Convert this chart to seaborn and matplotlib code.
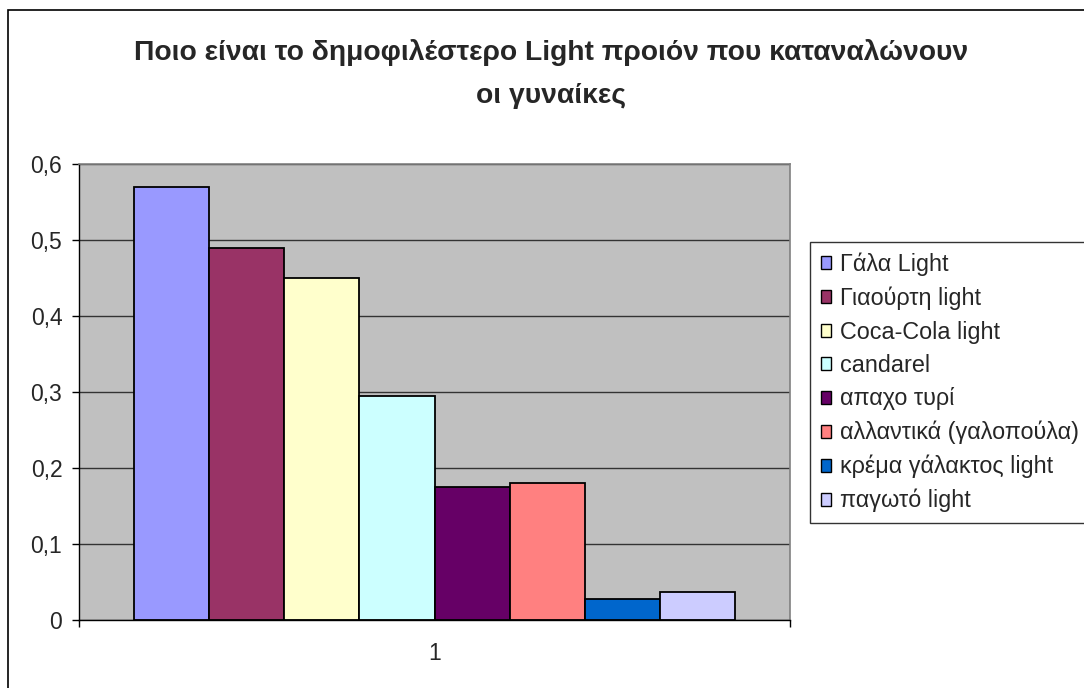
import matplotlib
matplotlib.use("Agg")
import matplotlib.pyplot as plt
from matplotlib.patches import Patch, Rectangle
import seaborn as sns
import pandas as pd

# Share of women naming each light product
products = [
    "Γάλα Light",
    "Γιαούρτη light",
    "Coca-Cola light",
    "candarel",
    "απαχο τυρί",
    "αλλαντικά (γαλοπούλα)",
    "κρέμα γάλακτος light",
    "παγωτό light",
]
shares = [0.57, 0.49, 0.45, 0.295, 0.175, 0.18, 0.028, 0.037]
groups = ["1"] * len(products)
colors = ["#9999FF", "#993366", "#FFFFCC", "#CCFFFF",
          "#660066", "#FF8080", "#0066CC", "#CCCCFF"]
y_ticks = [0.0, 0.1, 0.2, 0.3, 0.4, 0.5, 0.6]
y_tick_labels = ["0", "0,1", "0,2", "0,3", "0,4", "0,5", "0,6"]
title = "Ποιο είναι το δημοφιλέστερο Light προιόν που καταναλώνουν\nοι γυναίκες"

df = pd.DataFrame({"group": groups, "product": products, "share": shares})

sns.set_style("white")
plt.rcParams["font.family"] = ["Liberation Sans", "DejaVu Sans"]

W, H = 1084, 688
fig = plt.figure(figsize=(W / 100, H / 100), dpi=100)
fig.patch.set_facecolor("white")

# plot area in pixel coordinates
left, right, top, bottom = 79, 790, 164, 620
ax = fig.add_axes([left / W, 1 - bottom / H, (right - left) / W, (bottom - top) / H])
ax.set_facecolor("#C0C0C0")

sns.barplot(data=df, x="group", y="share", hue="product", hue_order=products,
            palette=colors, saturation=1, width=0.846, errorbar=None,
            edgecolor="black", linewidth=1.3, legend=False, ax=ax)

ax.set_xlim(-0.5, 0.5)
ax.set_ylim(0, 0.6)
ax.set_yticks(y_ticks)
ax.set_yticklabels(y_tick_labels)
ax.set_xlabel("")
ax.set_ylabel("")

ax.yaxis.grid(True, color="#333333", linewidth=1.0)
ax.set_axisbelow(True)

for side in ("top", "right"):
    ax.spines[side].set_color("#808080")
    ax.spines[side].set_linewidth(1.2)
for side in ("left", "bottom"):
    ax.spines[side].set_color("black")
    ax.spines[side].set_linewidth(1.0)

ax.tick_params(axis="y", direction="out", length=5, width=1, color="black",
               pad=7, labelsize=16.5, left=True)
ax.set_xticks([0])
ax.set_xticks([-0.5, 0.5], minor=True)
ax.tick_params(axis="x", which="major", length=0, pad=16, labelsize=16.5)
ax.tick_params(axis="x", which="minor", direction="out", length=5, width=1,
               color="black", bottom=True)

# chart title
fig.text(551 / W, 1 - 74 / H, title, ha="center", va="center",
         fontsize=20.3, fontweight="bold", linespacing=1.82)

# legend
handles = [Patch(facecolor=c, edgecolor="black", linewidth=1.0) for c in colors]
leg = fig.legend(handles, products, loc="upper left",
                 bbox_to_anchor=(810 / W, 1 - 242 / H),
                 bbox_transform=fig.transFigure,
                 fontsize=16.8, frameon=True, fancybox=False,
                 handlelength=0.46, handleheight=0.46, handletextpad=0.38,
                 labelspacing=0.45, borderpad=0.45, borderaxespad=0)
leg.get_frame().set_edgecolor("black")
leg.get_frame().set_linewidth(1.0)

# outer chart border
fig.patches.append(Rectangle((8 / W, -0.05), 1.1, 1 - 10 / H + 0.05,
                             transform=fig.transFigure, fill=False,
                             edgecolor="black", linewidth=1.2))

fig.savefig("out.png", dpi=100)
